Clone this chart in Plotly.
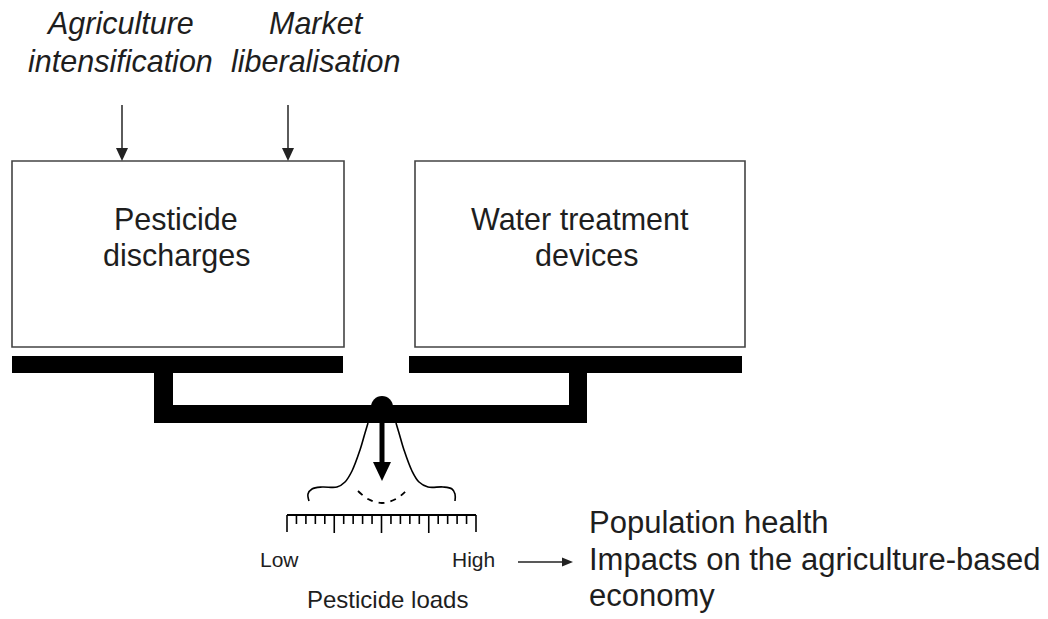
import numpy as np
import plotly.graph_objects as go

W, H = 1048, 619

# ---------------- text content ----------------
driver_lines = [["Agriculture", "intensification"], ["Market", "liberalisation"]]
box_lines = [["Pesticide", "discharges"], ["Water treatment", "devices"]]
scale_ends = ["Low", "High"]
scale_title = "Pesticide loads"
outcome_lines = ["Population health", "Impacts on the agriculture-based", "economy"]
n_scale_divisions = 20

# ---------------- geometry (pixel space, y downward) ----------------
driver_x = [120, 316]
driver_y = [23, 61]
arrow_x = [122, 288]
box_rects = [(12, 344, 161, 347), (415, 745, 161, 347)]
box_text_x = [[176, 177], [580, 586]]
box_text_y = [219, 255]
bar_rects = [(12, 343, 356, 373), (409, 742, 356, 373)]
stem_rects = [(154, 173, 371, 423), (569, 587, 371, 423)]
beam_rect = (154, 587, 405, 423)
pivot = (382, 407, 11)
bell_left_x = [368, 365, 360, 352, 345, 337, 322, 312, 308, 309]
bell_left_y = [423, 433, 450, 471, 482, 487, 487, 489, 494, 501]
bell_right_x = [396, 399, 404, 412, 419, 428, 443, 452, 455, 455]
bell_right_y = [423, 433, 450, 471, 482, 487, 487, 489, 494, 501]
arc_x = [358, 368, 382, 396, 407]
arc_y = [491, 499, 503, 499, 490]
ruler = (287, 476, 515)
outcome_y = [522, 559, 595]

TXT = "#1e1e1e"
FONT = "Liberation Sans, Arial, Helvetica, sans-serif"

fig = go.Figure()

# bell-shaped gauge outline
fig.add_trace(go.Scatter(x=bell_left_x, y=bell_left_y, mode="lines",
                         line=dict(color="black", width=1.6, shape="spline"),
                         hoverinfo="skip"))
fig.add_trace(go.Scatter(x=bell_right_x, y=bell_right_y, mode="lines",
                         line=dict(color="black", width=1.6, shape="spline"),
                         hoverinfo="skip"))
fig.add_trace(go.Scatter(x=arc_x, y=arc_y, mode="lines",
                         line=dict(color="black", width=1.8, shape="spline", dash="6px,6px"),
                         hoverinfo="skip"))

shapes = []
# boxes
for (x0, x1, y0, y1) in box_rects:
    shapes.append(dict(type="rect", x0=x0, x1=x1, y0=y0, y1=y1,
                       line=dict(color="#444444", width=1.6), fillcolor="white", layer="below"))
# balance bars
for (x0, x1, y0, y1) in bar_rects + stem_rects + [beam_rect]:
    shapes.append(dict(type="rect", x0=x0, x1=x1, y0=y0, y1=y1,
                       line=dict(width=0), fillcolor="black"))
cx, cy, r = pivot
shapes.append(dict(type="circle", x0=cx - r, x1=cx + r, y0=cy - r, y1=cy + r,
                   line=dict(width=0), fillcolor="black"))
# gauge needle arrow
shapes.append(dict(type="rect", x0=cx - 2.5, x1=cx + 2.5, y0=423, y1=465,
                   line=dict(width=0), fillcolor="black"))
shapes.append(dict(type="path", path=f"M {cx-9},462 L {cx+9},462 L {cx},481 Z",
                   line=dict(width=0), fillcolor="black"))
# driver arrows
for ax in arrow_x:
    shapes.append(dict(type="line", x0=ax, x1=ax, y0=105, y1=150,
                       line=dict(color="#333333", width=1.6)))
    shapes.append(dict(type="path", path=f"M {ax-6},148 L {ax+6},148 L {ax},161 Z",
                       line=dict(width=0), fillcolor="#222222"))
# outcome arrow
shapes.append(dict(type="line", x0=518, x1=565, y0=562, y1=562,
                   line=dict(color="#222222", width=1.6)))
shapes.append(dict(type="path", path="M 562,557.5 L 573,562 L 562,566.5 Z",
                   line=dict(width=0), fillcolor="#222222"))
# ruler
rx0, rx1, ry = ruler
shapes.append(dict(type="line", x0=rx0, x1=rx1, y0=ry, y1=ry,
                   line=dict(color="black", width=2)))
ticks = np.linspace(rx0, rx1, n_scale_divisions + 1)
for i, tx in enumerate(ticks):
    if i in (0, n_scale_divisions):
        L = 17
    elif i % 5 == 0:
        L = 18
    else:
        L = 9
    shapes.append(dict(type="line", x0=tx, x1=tx, y0=ry, y1=ry + L,
                       line=dict(color="black", width=1.6)))

annotations = []
def txt(x, y, s, size, anchor="center", italic=False):
    annotations.append(dict(x=x, y=y, xref="x", yref="y", text=(f"<i>{s}</i>" if italic else s),
                            showarrow=False, xanchor=anchor, yanchor="middle", borderpad=0,
                            font=dict(family=FONT, size=size, color=TXT)))

for lines, x in zip(driver_lines, driver_x):
    for line, y in zip(lines, driver_y):
        txt(x, y, line, 30.5, italic=True)
for lines, xs in zip(box_lines, box_text_x):
    for line, x, y in zip(lines, xs, box_text_y):
        txt(x, y, line, 30.5)
txt(279, 559, scale_ends[0], 21)
txt(473, 559, scale_ends[1], 21)
txt(387, 599, scale_title, 24)
for line, y in zip(outcome_lines, outcome_y):
    txt(588, y, line, 31, anchor="left")

fig.update_layout(
    width=W, height=H, autosize=False,
    margin=dict(l=0, r=0, t=0, b=0),
    paper_bgcolor="white", plot_bgcolor="white",
    showlegend=False,
    xaxis=dict(range=[0, W], visible=False, fixedrange=True),
    yaxis=dict(range=[H, 0], visible=False, fixedrange=True),
    shapes=shapes, annotations=annotations,
)
fig.write_html("out.html",
               config={"displayModeBar": False, "staticPlot": True},
               post_script="document.body.style.margin='0';document.body.style.overflow='hidden';")
